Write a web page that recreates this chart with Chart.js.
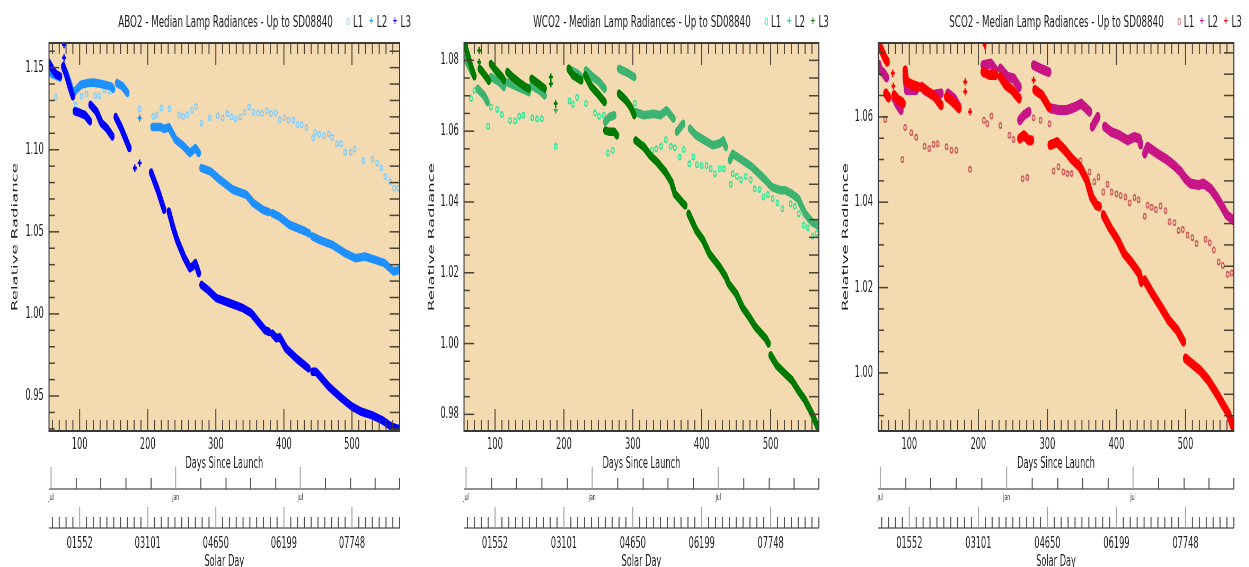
<!DOCTYPE html>
<html>
<head>
<meta charset="utf-8">
<script src="https://cdn.jsdelivr.net/npm/chart.js@4.4.0/dist/chart.umd.min.js"></script>
<style>
html, body { margin: 0; padding: 0; background: #fff; width: 1249px; height: 567px; overflow: hidden; }
#stage { position: absolute; left: 0; top: 0; width: 2357px; height: 567px;
         transform: scaleX(0.53); transform-origin: 0 0; font-family: "DejaVu Sans", sans-serif; }
.panel { position: absolute; top: 0; height: 567px; }
.head { position: absolute; top: 12px; line-height: 20px; font-size: 16.5px; color: #1a1a1a; white-space: nowrap; }
.lg { margin-left: 26px; }
.mk { display: inline-block; vertical-align: middle; margin-right: 6px; }
.ring { width: 4px; height: 5px; border: 1.8px solid; border-radius: 50%; position: relative; top: -1px; }
.plus { font-size: 11px; font-weight: bold; position: relative; top: -2px; }
.gap { margin-left: 10px; }
</style>
</head>
<body>
<div id="stage">
  <div class="panel" id="p1" style="left:0px;width:783px"><canvas id="c1"></canvas></div>
  <div class="panel" id="p2" style="left:783px;width:791px"><canvas id="c2"></canvas></div>
  <div class="panel" id="p3" style="left:1574px;width:783px"><canvas id="c3"></canvas></div>

  <div class="head" style="left:223px">ABO2 - Median Lamp Radiances - Up to SD08840<span class="lg"><span class="mk ring" style="color:#87CEFA"></span>L1<span class="mk plus gap" style="color:#1E90FF">+</span>L2<span class="mk plus gap" style="color:#0000FF">+</span>L3</span></div>
  <div class="head" style="left:1006px">WCO2 - Median Lamp Radiances - Up to SD08840<span class="lg"><span class="mk ring" style="color:#2EE89A"></span>L1<span class="mk plus gap" style="color:#3CB371">+</span>L2<span class="mk plus gap" style="color:#007A00">+</span>L3</span></div>
  <div class="head" style="left:1791px">SCO2 - Median Lamp Radiances - Up to SD08840<span class="lg"><span class="mk ring" style="color:#CD5C5C"></span>L1<span class="mk plus gap" style="color:#C71585">+</span>L2<span class="mk plus gap" style="color:#FF0000">+</span>L3</span></div>
</div>

<script>
// x axes (days since launch), shared by the three panels
const xMin = 55, xMax = 570;
const dayMajors = [100, 200, 300, 400, 500];
const solarDayLabels = ['01552', '03101', '04650', '06199', '07748'];
const monthTickDays = [58, 95, 131, 168, 205, 241, 278, 315, 351, 388, 424, 461, 498, 534, 570];
const monthTickLabels = ['jul', '', '', '', '', 'jan', '', '', '', '', 'jul', '', '', '', ''];

// ABO2 [day, radiance]
const abo2L1 = [[65,1.1321],[94,1.1274],[103,1.1325],[110,1.1339],[123,1.1329],[129,1.1329],[136,1.1366],[144,1.1356],
  [188,1.1248],[208,1.1203],[213,1.1213],[220,1.1254],[232,1.1248],[246,1.1213],[252,1.1203],[258,1.1213],[265,1.124],
  [271,1.1264],[279,1.1163],[291,1.1193],[303,1.1207],[310,1.1193],[317,1.122],[323,1.12],[329,1.1187],[336,1.12],
  [342,1.1228],[349,1.126],[355,1.1228],[362,1.1224],[368,1.122],[375,1.1238],[381,1.122],[388,1.1224],[394,1.1183],
  [401,1.1193],[407,1.1179],[414,1.1179],[420,1.1152],[426,1.1152],[433,1.1136],[443,1.1071],[446,1.1106],[452,1.1092],
  [459,1.1086],[466,1.1096],[471,1.1075],[478,1.1037],[484,1.1037],[490,1.0984],[498,1.0984],[504,1.1004],[517,1.0935],
  [530,1.0943],[537,1.0919],[543,1.0888],[549,1.0837],[556,1.0807],[562,1.0766],[568,1.0766]];
const abo2L2 = [
  [[55,1.148],[60,1.146],[66,1.145],[71,1.144]],
  [[76,1.150],[80,1.147],[85,1.141],[90,1.134],[96,1.137],[102,1.1396],[112,1.1406],[120,1.141],[132,1.140],[146,1.1386],[149,1.137]],
  [[155,1.1406],[163,1.1386],[170,1.1346]],
  [[207,1.1138],[219,1.1138],[224,1.1126],[231,1.1138],[241,1.1061],[253,1.102],[262,1.098],[270,1.101],[275,1.098]],
  [[279,1.0888],[292,1.0868],[306,1.0817],[325,1.0756],[345,1.0726],[355,1.0675],[369,1.0634],[378,1.062]],
  [[383,1.0614],[393,1.0593],[408,1.0543],[432,1.0502],[437,1.049]],
  [[442,1.0472],[452,1.0451],[471,1.0421],[490,1.037],[505,1.0339],[519,1.035],[534,1.0329],[548,1.0309],[561,1.0258],[570,1.0268]]];
const abo2L3 = [
  [[55,1.1528],[60,1.149],[65,1.146],[71,1.1447]],
  [[76,1.151],[80,1.146],[85,1.139],[90,1.1325]],
  [[93,1.1234],[100,1.1225],[108,1.121],[115,1.1173]],
  [[116,1.1274],[125,1.123],[132,1.1163],[140,1.113],[148,1.1081]],
  [[153,1.1199],[160,1.114],[167,1.107],[173,1.101]],
  [[205,1.0862],[215,1.075],[224,1.0634]],
  [[231,1.0624],[237,1.053],[243,1.0451],[253,1.035],[262,1.0278],[266,1.029],[270,1.031],[275,1.0248]],
  [[279,1.0177],[290,1.014],[301,1.0096],[321,1.0065],[340,1.0035],[352,1.0005],[372,0.9902],[378,0.989]],
  [[383,0.988],[389,0.9852],[394,0.9858],[403,0.979],[418,0.973],[436,0.9669]],
  [[442,0.9648],[447,0.9648],[466,0.9557],[485,0.9486],[500,0.9435],[514,0.9404],[529,0.9384],[544,0.9354],[558,0.9313],[570,0.9297]]];
const abo2L2Odd = [[188,1.1193]];
const abo2L3Odd = [[77,1.164],[77,1.156],[181,1.0888],[188,1.0919]];

// WCO2
const wco2L1 = [[65,1.0692],[70,1.0715],[90,1.0614],[94,1.0668],[103,1.0661],[110,1.0647],[122,1.063],[129,1.0629],
  [135,1.0642],[141,1.0645],[154,1.0638],[161,1.0634],[168,1.0635],[188,1.0557],[208,1.0685],[213,1.0676],[219,1.0695],
  [232,1.0678],[245,1.0651],[251,1.0642],[258,1.0645],[264,1.0538],[271,1.0546],[303,1.0679],[316,1.056],[328,1.0546],
  [334,1.055],[341,1.0557],[348,1.0576],[355,1.0557],[361,1.0553],[368,1.0527],[374,1.0548],[382,1.0508],[388,1.0527],
  [393,1.0506],[400,1.0503],[407,1.0503],[413,1.0494],[419,1.048],[426,1.0494],[432,1.0494],[442,1.045],[445,1.048],
  [451,1.0472],[457,1.0463],[464,1.0472],[471,1.0463],[477,1.0437],[484,1.0435],[490,1.0414],[496,1.0421],[503,1.0409],
  [510,1.0397],[517,1.0381],[529,1.0395],[535,1.0388],[541,1.0367],[548,1.0334],[554,1.0327],[561,1.0303],[567,1.0312]];
const wco2L2 = [
  [[56,1.0805],[58,1.08],[63,1.0781],[68,1.0762]],
  [[75,1.072],[77,1.0715],[84,1.0701],[89,1.0682]],
  [[94,1.0753],[106,1.0739],[113,1.0725]],
  [[118,1.0738],[132,1.0725],[144,1.0715],[149,1.071]],
  [[153,1.0728],[165,1.0715],[172,1.0701]],
  [[207,1.0776],[220,1.0762],[225,1.0753]],
  [[232,1.0772],[242,1.0753],[251,1.0739],[259,1.072]],
  [[260,1.0626],[266,1.064],[273,1.0645]],
  [[280,1.0776],[290,1.0767],[302,1.0753]],
  [[304,1.0654],[316,1.0645],[330,1.0649],[340,1.0645],[349,1.0659],[359,1.0635]],
  [[364,1.0598],[373,1.0621]],
  [[383,1.0607],[392,1.0588],[404,1.0574],[416,1.056],[426,1.0565],[431,1.0574],[435,1.0555]],
  [[441,1.0518],[445,1.0536],[459,1.0518],[473,1.0499],[483,1.048],[493,1.0461],[502,1.0442],[514,1.0433],[521,1.0433],
   [531,1.0423],[540,1.0409],[550,1.0367],[560,1.0343],[569,1.0334]]];
const wco2L3 = [
  [[56,1.0845],[60,1.0819],[65,1.0785],[70,1.0755]],
  [[78,1.0776],[82,1.0767],[87,1.0753],[91,1.0742]],
  [[94,1.079],[101,1.0772],[110,1.0753],[113,1.0744]],
  [[118,1.0767],[125,1.0753],[134,1.0739],[144,1.0725],[149,1.072]],
  [[153,1.0748],[163,1.0734],[172,1.072]],
  [[207,1.0776],[213,1.0758],[225,1.0743]],
  [[231,1.0758],[240,1.0725],[249,1.0706],[259,1.0682]],
  [[260,1.0602],[266,1.0598],[273,1.0598],[277,1.0588]],
  [[280,1.0706],[290,1.0687],[297,1.0668],[302,1.0645]],
  [[304,1.0574],[316,1.0555],[325,1.0532],[335,1.0513],[347,1.0485],[356,1.0456],[361,1.0423],[371,1.04],[376,1.039]],
  [[381,1.0367],[392,1.032],[402,1.0292],[411,1.0254],[426,1.0216],[435,1.0188],[439,1.0169]],
  [[441,1.0164],[450,1.0141],[459,1.0103],[469,1.0075],[478,1.0047],[493,1.0014],[497,1.0]],
  [[500,0.9967],[509,0.9938],[521,0.9915],[531,0.9896],[540,0.9868],[550,0.984],[560,0.9802],[569,0.976]]];
const wco2L2Odd = [[188,1.0659]];
const wco2L3Odd = [[77,1.0828],[77,1.0795],[181,1.0753],[181,1.0734],[188,1.0678]];

// SCO2
const sco2L1 = [[65,1.0594],[90,1.05],[94,1.0575],[103,1.0563],[110,1.0552],[122,1.0531],[129,1.0526],[135,1.0536],
  [141,1.0537],[154,1.053],[161,1.0522],[168,1.0522],[188,1.0477],[208,1.0592],[213,1.0584],[219,1.0602],[232,1.058],
  [245,1.0557],[251,1.0547],[264,1.0455],[271,1.0458],[280,1.0598],[290,1.0592],[303,1.0584],[309,1.0473],[316,1.0483],
  [323,1.0471],[329,1.0467],[335,1.0467],[348,1.0497],[361,1.0471],[368,1.0448],[374,1.0459],[381,1.0424],[387,1.0442],
  [393,1.0424],[400,1.0419],[406,1.0416],[413,1.0412],[419,1.0398],[426,1.0411],[432,1.0406],[441,1.0367],[445,1.0393],
  [451,1.0388],[457,1.0383],[464,1.0391],[471,1.038],[477,1.0354],[484,1.0352],[490,1.0334],[496,1.0336],[503,1.0323],
  [510,1.0317],[516,1.0303],[529,1.0313],[535,1.0305],[541,1.0288],[548,1.026],[554,1.0252],[561,1.0231],[567,1.0234]];
const sco2L2 = [
  [[56,1.0722],[58,1.0709],[63,1.0702],[67,1.0692]],
  [[78,1.0645],[82,1.0631],[88,1.0616]],
  [[94,1.0695],[96,1.0663],[110,1.0663]],
  [[118,1.067],[122,1.0663],[134,1.0651],[146,1.0655]],
  [[156,1.0655],[165,1.0643],[172,1.0623]],
  [[207,1.0721],[218,1.0725],[225,1.0709]],
  [[232,1.0713],[242,1.0694],[251,1.069],[259,1.067]],
  [[260,1.0592],[266,1.0604],[273,1.0612]],
  [[280,1.0721],[290,1.0713],[302,1.0705]],
  [[304,1.062],[316,1.0616],[328,1.0616],[340,1.0623],[349,1.0631],[361,1.0612]],
  [[365,1.0577],[373,1.06]],
  [[383,1.0577],[392,1.0565],[404,1.0557],[416,1.0545],[426,1.0553],[433,1.0549],[435,1.0535]],
  [[441,1.0514],[445,1.053],[459,1.0514],[471,1.0502],[483,1.0487],[493,1.0471],[500,1.0455],[507,1.0444],[519,1.044],
   [526,1.0444],[536,1.0432],[545,1.0412],[552,1.0393],[560,1.037],[569,1.0358]]];
const sco2L3 = [
  [[55,1.0772],[60,1.0756],[65,1.0737],[68,1.0729]],
  [[66,1.0655],[70,1.0645]],
  [[78,1.0651],[84,1.0639],[89,1.0635],[91,1.0631]],
  [[94,1.0709],[96,1.0682],[106,1.0674],[113,1.067]],
  [[118,1.067],[127,1.0659],[137,1.0647],[146,1.0627]],
  [[154,1.0647],[163,1.0635],[172,1.062]],
  [[207,1.0705],[216,1.0698],[225,1.0698]],
  [[232,1.0694],[240,1.0674],[249,1.0663],[259,1.0643]],
  [[260,1.0549],[266,1.0557],[273,1.0545],[277,1.0545]],
  [[282,1.0663],[292,1.0651],[302,1.0623]],
  [[304,1.0534],[314,1.0541],[325,1.0522],[335,1.0502],[347,1.0483],[357,1.0452],[364,1.0412],[371,1.0393],[375,1.039]],
  [[381,1.037],[390,1.0342],[402,1.0311],[411,1.028],[423,1.0256],[433,1.0233],[436,1.0213]],
  [[441,1.0217],[452,1.0186],[464,1.0155],[476,1.0123],[488,1.01],[497,1.0073]],
  [[500,1.0034],[512,1.0018],[521,1.0006],[533,0.9983],[545,0.9952],[555,0.9924],[562,0.9905],[569,0.9873]]];
const sco2L2Odd = [];
const sco2L3Odd = [[76,1.0702],[77,1.0672],[181,1.0682],[181,1.0659],[188,1.0612],[209,1.0768],[280,1.0686]];

const plotBg = '#F3DAB0';
Chart.defaults.font.family = '"DejaVu Sans", sans-serif';
Chart.defaults.color = '#1e1e1e';

// segments -> one line dataset with gaps
function joinSegs(list) {
  const out = [];
  list.forEach((seg, i) => {
    if (i) out.push({ x: seg[0][0], y: null });
    seg.forEach(p => out.push({ x: p[0], y: p[1] }));
  });
  return out;
}
const toPts = list => list.map(p => ({ x: p[0], y: p[1] }));

function stepTicks(min, max, step) {
  const t = [];
  for (let k = Math.ceil(min / step - 1e-9); k * step <= max + 1e-9; k++) t.push({ value: +(k * step).toFixed(4) });
  return t;
}
const isMult = (v, step) => Math.abs(v / step - Math.round(v / step)) < 1e-6;

function frameTicks(p) {
  return {
    id: 'frameTicks',
    beforeDraw(chart) {
      const { ctx, chartArea: a } = chart;
      ctx.save();
      ctx.fillStyle = plotBg;
      ctx.fillRect(a.left, a.top, a.right - a.left, a.bottom - a.top);
      ctx.restore();
    },
    afterDraw(chart) {
      const { ctx, chartArea: a, scales } = chart;
      const seg = (x1, y1, x2, y2) => { ctx.beginPath(); ctx.moveTo(x1, y1); ctx.lineTo(x2, y2); ctx.stroke(); };
      ctx.save();
      // inner ticks on the plot frame
      ctx.strokeStyle = '#4b4134';
      ctx.lineWidth = 1.9;
      scales.x.ticks.forEach(t => {
        const px = scales.x.getPixelForValue(t.value);
        const len = isMult(t.value, 100) ? 22 : 11;
        seg(px, a.top, px, a.top + len);
        seg(px, a.bottom, px, a.bottom - len);
      });
      ctx.lineWidth = 1.5;
      scales.y.ticks.forEach(t => {
        const py = scales.y.getPixelForValue(t.value);
        seg(a.left, py, a.left + (isMult(t.value, p.yMajor) ? 19 : 11), py);
        seg(a.right, py, a.right - 19, py);
      });
      ctx.strokeStyle = '#3a3a3a';
      ctx.lineWidth = 2;
      ctx.strokeRect(a.left, a.top, a.right - a.left, a.bottom - a.top);

      // month axis
      const m = scales.month, my = m.top + 17;
      ctx.strokeStyle = '#6a6a6a';
      ctx.lineWidth = 1.6;
      seg(a.left, my, a.right, my);
      ctx.lineWidth = 1.9;
      m.ticks.forEach((t, i) => {
        const px = m.getPixelForValue(t.value);
        const major = monthTickLabels[i] !== '';
        ctx.strokeStyle = major ? '#a0a0a0' : '#4a4a4a';
        seg(px, my, px, my - (major ? 22 : 11));
      });

      // solar day axis
      const s = scales.solar, sy = s.top + 22;
      ctx.strokeStyle = '#6a6a6a';
      ctx.lineWidth = 1.6;
      seg(a.left, sy, a.right, sy);
      ctx.lineWidth = 1.9;
      s.ticks.forEach(t => {
        const px = s.getPixelForValue(t.value);
        const major = isMult(t.value, 100);
        ctx.strokeStyle = major ? '#a0a0a0' : '#4a4a4a';
        seg(px, sy, px, sy - (major ? 21 : 11));
      });
      ctx.restore();
    }
  };
}

function drawPanel(p) {
  const band = (label, list, color, order) => ({
    type: 'line', label, data: joinSegs(list), borderColor: color, backgroundColor: color,
    borderWidth: p.band, pointRadius: 0, spanGaps: false, tension: 0,
    borderJoinStyle: 'round', borderCapStyle: 'round', order
  });
  const odd = (label, list, color) => ({
    type: 'scatter', label, data: toPts(list), pointStyle: 'cross', pointRadius: 3.6,
    borderWidth: 2.6, borderColor: color, backgroundColor: color, order: 0
  });

  new Chart(document.getElementById(p.id), {
    type: 'line',
    data: {
      datasets: [
        band('L3', p.l3, p.colors[2], 1),
        band('L2', p.l2, p.colors[1], 2),
        {
          type: 'scatter', label: 'L1', data: toPts(p.l1), pointStyle: 'circle', pointRadius: 2.6,
          borderWidth: 1.8, borderColor: p.colors[0], backgroundColor: 'rgba(0,0,0,0)', order: 3
        },
        odd('L3 single', p.l3Odd, p.colors[2]),
        odd('L2 single', p.l2Odd, p.colors[1])
      ]
    },
    options: {
      responsive: true,
      maintainAspectRatio: false,
      animation: false,
      layout: { padding: { top: 43, right: p.padRight, left: 0, bottom: 0 } },
      plugins: { legend: { display: false }, tooltip: { enabled: false } },
      scales: {
        x: {
          type: 'linear', position: 'bottom', min: xMin, max: xMax, weight: 0,
          grid: { display: false, drawTicks: false }, border: { display: false },
          afterBuildTicks: s => { s.ticks = stepTicks(60, xMax, 10); },
          ticks: { autoSkip: false, maxRotation: 0, minRotation: 0, padding: 5, font: { size: 15.5 },
                   callback: v => (dayMajors.includes(v) ? String(v) : '') },
          title: { display: true, text: 'Days Since Launch', font: { size: 15.5, lineHeight: 1 }, padding: { top: 0, bottom: 0 } },
          afterFit: s => { s.height = 41; }
        },
        month: {
          type: 'linear', position: 'bottom', min: xMin, max: xMax, weight: 1,
          grid: { display: false, drawTicks: false }, border: { display: false },
          afterBuildTicks: s => { s.ticks = monthTickDays.map(v => ({ value: v })); },
          ticks: { autoSkip: false, maxRotation: 0, minRotation: 0, padding: 21, font: { size: 8.5 },
                   callback: (v, i) => monthTickLabels[i] },
          afterFit: s => { s.height = 34; }
        },
        solar: {
          type: 'linear', position: 'bottom', min: xMin, max: xMax, weight: 2,
          grid: { display: false, drawTicks: false }, border: { display: false },
          afterBuildTicks: s => { s.ticks = stepTicks(60, xMax, 10); },
          ticks: { autoSkip: false, maxRotation: 0, minRotation: 0, padding: 29, font: { size: 15.5 },
                   callback: v => { const k = dayMajors.indexOf(v); return k < 0 ? '' : solarDayLabels[k]; } },
          title: { display: true, text: 'Solar Day', font: { size: 15.5, lineHeight: 0.645 }, padding: { top: 0, bottom: 0 } },
          afterFit: s => { s.height = 61; }
        },
        y: {
          type: 'linear', position: 'left', min: p.yMin, max: p.yMax,
          grid: { display: false, drawTicks: false }, border: { display: false },
          afterBuildTicks: s => { s.ticks = stepTicks(p.yMin, p.yMax, p.yMinor); },
          ticks: { autoSkip: false, padding: 10, font: { size: 15.5 },
                   callback: v => (isMult(v, p.yMajor) ? v.toFixed(2) : '') },
          title: { display: true, text: 'Relative Radiance', font: { size: 16.5 }, padding: { top: p.titlePad, bottom: 0 } },
          afterFit: s => { s.width = p.yAxisW; }
        }
      }
    },
    plugins: [frameTicks(p)]
  });
}

drawPanel({ id: 'c1', yMin: 0.9287, yMax: 1.165, yMajor: 0.05, yMinor: 0.01, yAxisW: 92.5, padRight: 22.6, titlePad: 19,
  band: 8.5, colors: ['#87CEFA', '#1E90FF', '#0000FF'], l1: abo2L1, l2: abo2L2, l3: abo2L3, l2Odd: abo2L2Odd, l3Odd: abo2L3Odd });
drawPanel({ id: 'c2', yMin: 0.9753, yMax: 1.0849, yMajor: 0.02, yMinor: 0.005, yAxisW: 92.5, padRight: 18.9, titlePad: 22,
  band: 8.5, colors: ['#2EE89A', '#3CB371', '#007A00'], l1: wco2L1, l2: wco2L2, l3: wco2L3, l2Odd: wco2L2Odd, l3Odd: wco2L3Odd });
drawPanel({ id: 'c3', yMin: 0.9864, yMax: 1.0773, yMajor: 0.02, yMinor: 0.005, yAxisW: 83, padRight: 20.8, titlePad: 12,
  band: 10, colors: ['#CD5C5C', '#C71585', '#FF0000'], l1: sco2L1, l2: sco2L2, l3: sco2L3, l2Odd: sco2L2Odd, l3Odd: sco2L3Odd });
</script>
</body>
</html>
